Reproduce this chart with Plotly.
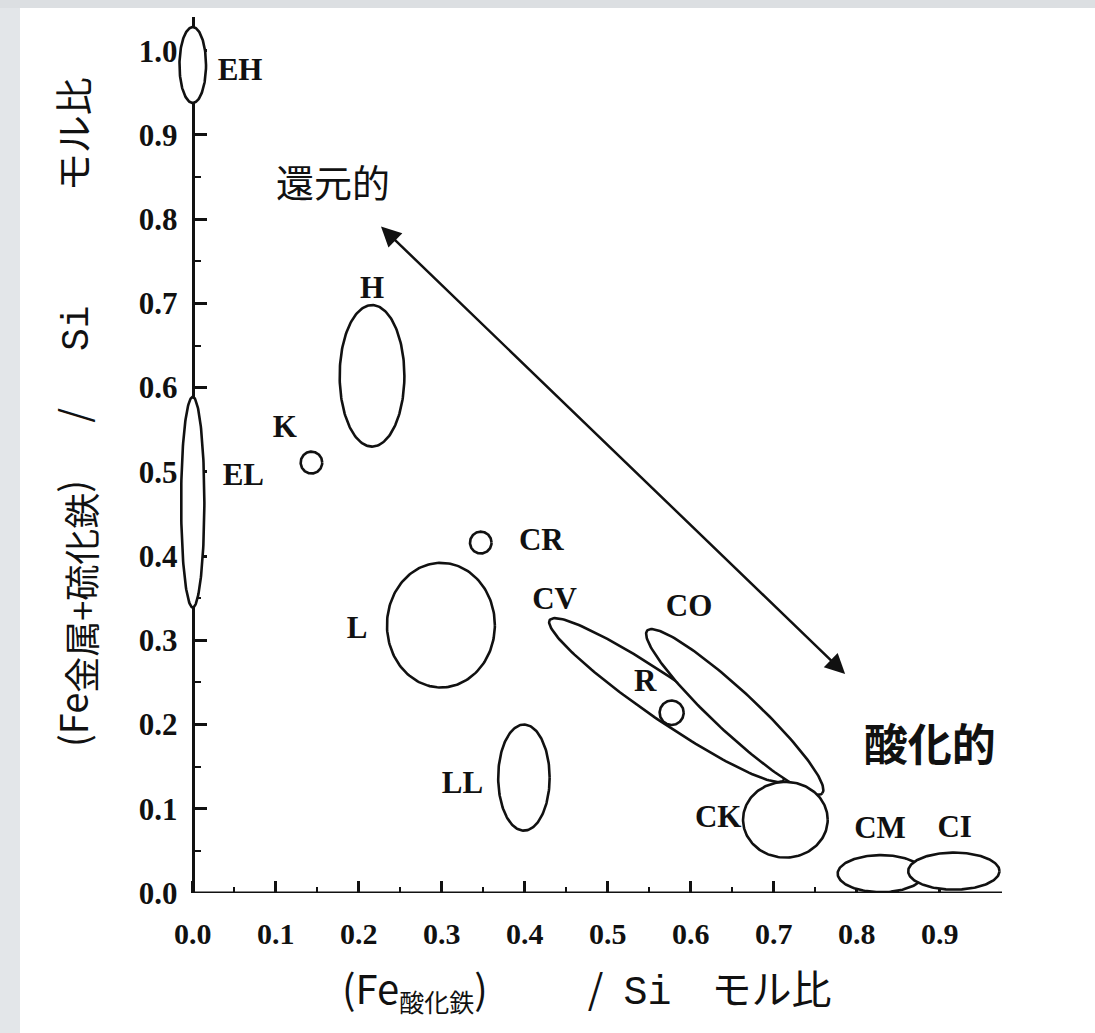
import numpy as np
import plotly.graph_objects as go

# ---------------- data ----------------
# ellipse regions: name, centre x, centre y, semi-axis a, semi-axis b, rotation (deg)
ell_names = ["EH", "EL", "H", "K", "CR", "L", "LL", "CV", "CO", "R", "CK", "CM", "CI"]
ell_cx = [0.000, 0.000, 0.216, 0.143, 0.347, 0.299, 0.399, 0.571, 0.653, 0.577, 0.714, 0.829, 0.917]
ell_cy = [0.983, 0.464, 0.614, 0.511, 0.416, 0.318, 0.137, 0.229, 0.215, 0.214, 0.087, 0.023, 0.026]
ell_a = [0.016, 0.014, 0.039, 0.013, 0.013, 0.065, 0.031, 0.170, 0.143, 0.0145, 0.051, 0.052, 0.055]
ell_b = [0.045, 0.125, 0.084, 0.013, 0.013, 0.074, 0.063, 0.025, 0.025, 0.0145, 0.045, 0.022, 0.022]
ell_rot = [0, 0, 0, 0, 0, 0, 0, -34, -42.5, 0, 0, 0, 0]

# text labels of the groups
lab_text = ["EH", "EL", "H", "K", "CR", "L", "CV", "CO", "R", "LL", "CK", "CM", "CI"]
lab_x = [0.057, 0.061, 0.216, 0.111, 0.420, 0.198, 0.436, 0.598, 0.545, 0.325, 0.633, 0.828, 0.918]
lab_y = [0.975, 0.493, 0.716, 0.550, 0.416, 0.312, 0.346, 0.338, 0.249, 0.128, 0.087, 0.075, 0.076]

# direction arrow (reducing <-> oxidizing)
arrow_from = (0.225, 0.793)
arrow_to = (0.786, 0.260)
dir_text = ["還元的", "<b>酸化的</b>"]
dir_x = [0.169, 0.888]
dir_y = [0.838, 0.170]

x_ticks = [0.0, 0.1, 0.2, 0.3, 0.4, 0.5, 0.6, 0.7, 0.8, 0.9]
y_ticks = [0.0, 0.1, 0.2, 0.3, 0.4, 0.5, 0.6, 0.7, 0.8, 0.9, 1.0]

# ---------------- layout constants ----------------
W, H = 1095, 1033
ML, MR, MT, MB = 172, 93, 17, 140
XR = [-0.025, 0.975]
YR = [0.0, 1.04]
plot_w = W - ML - MR
plot_h = H - MT - MB
yaxis_pos = (0 - XR[0]) / (XR[1] - XR[0])

def px2paper_x(p):
    return (p - ML) / plot_w

def px2paper_y(p):
    return (H - MB - p) / plot_h

fig = go.Figure()

t = np.linspace(0, 2 * np.pi, 181)
order = ["EH", "EL", "H", "K", "CR", "L", "LL", "CV", "CO", "R", "CK", "CM", "CI"]
for nm in order:
    i = ell_names.index(nm)
    th = np.deg2rad(ell_rot[i])
    a, b = ell_a[i], ell_b[i]
    dx = a * np.cos(th) * np.cos(t) - b * np.sin(th) * np.sin(t)
    dy = a * np.sin(th) * np.cos(t) + b * np.cos(th) * np.sin(t)
    fig.add_trace(go.Scatter(
        x=ell_cx[i] + dx, y=ell_cy[i] + dy, mode="lines",
        fill="toself", fillcolor="white",
        line=dict(color="#111111", width=2.6),
        hoverinfo="skip", showlegend=False, name=nm))

fig.add_trace(go.Scatter(
    x=lab_x, y=lab_y, text=lab_text, mode="text",
    textfont=dict(family="Liberation Serif", size=31, color="#111111", weight="bold"),
    cliponaxis=False, showlegend=False, hoverinfo="skip"))

fig.add_trace(go.Scatter(
    x=dir_x, y=dir_y, text=dir_text, mode="text",
    textfont=dict(family="Noto Sans CJK JP", size=[38, 44], color="#111111"),
    cliponaxis=False, showlegend=False, hoverinfo="skip"))

fig.add_annotation(
    x=arrow_to[0], y=arrow_to[1], ax=arrow_from[0], ay=arrow_from[1],
    xref="x", yref="y", axref="x", ayref="y", text="",
    showarrow=True, arrowhead=2, startarrowhead=2, arrowside="end+start",
    arrowsize=1.6, startarrowsize=1.6, arrowwidth=2.5, arrowcolor="#111111")

MONO = "<span style=\"font-family:Liberation Mono\">{}</span>"
SUB = "<sub><span style=\"font-size:{}px\">{}</span></sub>"

# axis titles
fig.add_annotation(
    xref="paper", yref="paper", x=px2paper_x(75), y=px2paper_y(412),
    xanchor="center", yanchor="middle",
    text="(Fe" + SUB.format(36, "金属+硫化鉄") + ")\u2003\u2002/\u2003\u2002" + MONO.format("Si")
         + "\u3000\u3000\u3000モル比",
    textangle=-90, showarrow=False,
    font=dict(family="Noto Sans CJK JP", size=38, color="#111111"))
fig.add_annotation(
    xref="paper", yref="paper", x=px2paper_x(586), y=px2paper_y(988),
    xanchor="center", yanchor="middle",
    text="(Fe" + SUB.format(25, "酸化鉄") + ")\u3000\u3000\u2002/\u2002" + MONO.format("Si")
         + "\u3000モル比",
    showarrow=False,
    font=dict(family="Noto Sans CJK JP", size=40, color="#111111"))

# x axis line from origin, grey scan borders
shapes = [
    dict(type="line", xref="paper", yref="y", x0=yaxis_pos, x1=1, y0=0, y1=0,
         line=dict(color="#111111", width=3), layer="below"),
    dict(type="rect", xref="paper", yref="paper",
         x0=px2paper_x(0), x1=px2paper_x(20), y0=px2paper_y(H), y1=px2paper_y(0),
         fillcolor="#e3e6e9", line=dict(width=0), layer="below"),
    dict(type="rect", xref="paper", yref="paper",
         x0=px2paper_x(0), x1=px2paper_x(W), y0=px2paper_y(8), y1=px2paper_y(0),
         fillcolor="#dcdfe2", line=dict(width=0), layer="below"),
]

fig.update_layout(
    width=W, height=H,
    margin=dict(l=ML, r=MR, t=MT, b=MB, pad=0),
    paper_bgcolor="white", plot_bgcolor="white",
    showlegend=False,
    shapes=shapes,
    xaxis=dict(
        range=XR, showgrid=False, zeroline=False, showline=False,
        tickmode="array", tickvals=x_ticks, ticktext=[f"{v:.1f}" for v in x_ticks],
        ticks="inside", ticklen=12, tickwidth=2.5, tickcolor="#111111",
        minor=dict(tickmode="array", tickvals=[v + 0.05 for v in x_ticks[:-1]],
                   ticks="inside", ticklen=6, tickwidth=2, tickcolor="#111111"),
        tickfont=dict(family="Liberation Serif", size=30, color="#111111", weight="bold"),
        ticklabelstandoff=20, layer="below traces", fixedrange=True),
    yaxis=dict(
        range=YR, anchor="free", position=yaxis_pos,
        showgrid=False, zeroline=False, showline=True, linecolor="#111111", linewidth=3,
        tickmode="array", tickvals=y_ticks, ticktext=[f"{v:.1f}" for v in y_ticks],
        ticks="inside", ticklen=12, tickwidth=2.5, tickcolor="#111111",
        minor=dict(tickmode="array", tickvals=[v + 0.05 for v in y_ticks[:-1]],
                   ticks="inside", ticklen=6, tickwidth=2, tickcolor="#111111"),
        tickfont=dict(family="Liberation Serif", size=31, color="#111111", weight="bold"),
        ticklabelstandoff=8, layer="below traces", fixedrange=True),
)

fig.write_html("out.html")
